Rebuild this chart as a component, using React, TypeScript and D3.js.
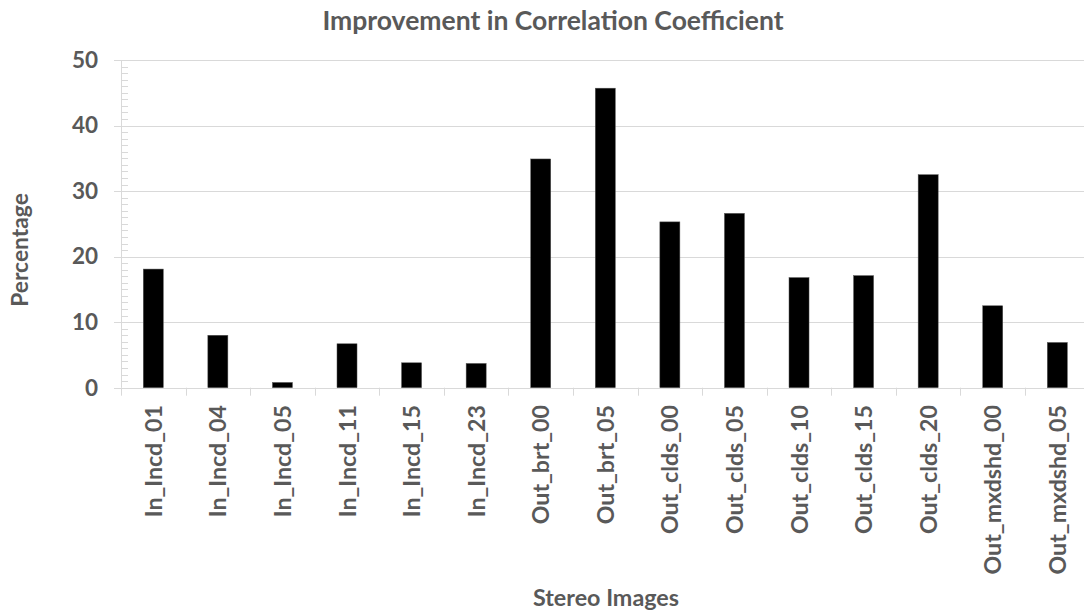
import React from "react";
import * as d3 from "d3";

const categories: string[] = [
  "In_Incd_01", "In_Incd_04", "In_Incd_05", "In_Incd_11", "In_Incd_15", "In_Incd_23",
  "Out_brt_00", "Out_brt_05", "Out_clds_00", "Out_clds_05", "Out_clds_10", "Out_clds_15",
  "Out_clds_20", "Out_mxdshd_00", "Out_mxdshd_05",
];
const values: number[] = [18.1, 8.0, 0.8, 6.7, 3.8, 3.7, 34.9, 45.7, 25.3, 26.6, 16.8, 17.1, 32.5, 12.5, 6.9];
const yTicks: number[] = [0, 10, 20, 30, 40, 50];
const title = "Improvement in Correlation Coefficient";
const xTitle = "Stereo Images";
const yTitle = "Percentage";

const W = 1084;
const H = 614;
const left = 121;
const right = 1089.6;
const top = 60;
const bottom = 387.7;
const FONT = "Lato, 'Open Sans', sans-serif";
const TXT = "#595959";
const GRID = "#d9d9d9";

export default function App() {
  const x = d3.scaleBand<string>().domain(categories).range([left, right]).paddingInner(0.69).paddingOuter(0.345);
  const y = d3.scaleLinear().domain([0, 50]).range([bottom, top]);
  const minor = d3.range(0, 51, 1).filter((v) => v % 10 !== 0);
  const step = x.step();
  const boundaries = d3.range(categories.length + 1).map((i) => left + i * step);

  return (
    <svg width={W} height={H} style={{ position: "absolute", left: 0, top: 0, background: "#fff" }} fontFamily={FONT}>
      <rect x={0} y={0} width={W} height={H} fill="#fff" />
      {yTicks.map((t) => (
        <line key={"g" + t} x1={left - 7} x2={W} y1={Math.round(y(t)) + 0.5} y2={Math.round(y(t)) + 0.5} stroke={GRID} strokeWidth={1} />
      ))}
      {minor.map((t) => (
        <line key={"m" + t} x1={left} x2={left + 7} y1={Math.round(y(t)) + 0.5} y2={Math.round(y(t)) + 0.5} stroke={GRID} strokeWidth={1} />
      ))}
      <line x1={left + 0.5} x2={left + 0.5} y1={top} y2={bottom} stroke={GRID} strokeWidth={1} />
      {boundaries.map((b, i) => (
        <line key={"xt" + i} x1={Math.round(b) + 0.5} x2={Math.round(b) + 0.5} y1={bottom} y2={bottom + 8} stroke={GRID} strokeWidth={1} />
      ))}
      {categories.map((c, i) => (
        <rect key={c} x={x(c)!} y={y(values[i])} width={x.bandwidth()} height={bottom - y(values[i])} fill="#000" stroke="#555" strokeWidth={0.5} />
      ))}
      {yTicks.map((t) => (
        <text key={"yl" + t} x={98} y={y(t)} dy="0.35em" textAnchor="end" fontSize={22.5} fontWeight="bold" fill={TXT}>
          {t}
        </text>
      ))}
      {categories.map((c) => {
        const cx = x(c)! + x.bandwidth() / 2 + 8.5;
        return (
          <text key={"xl" + c} transform={`translate(${cx},405) rotate(-90)`} textAnchor="end" fontSize={23.2} fontWeight="bold" fill={TXT}>
            {c}
          </text>
        );
      })}
      <text x={553} y={29.5} textAnchor="middle" fontSize={26.5} fontWeight="bold" fill={TXT}>
        {title}
      </text>
      <text x={606} y={606} textAnchor="middle" fontSize={23.3} fontWeight="bold" fill={TXT}>
        {xTitle}
      </text>
      <text transform={`translate(28,250) rotate(-90)`} textAnchor="middle" fontSize={22.8} fontWeight="bold" fill={TXT}>
        {yTitle}
      </text>
    </svg>
  );
}
